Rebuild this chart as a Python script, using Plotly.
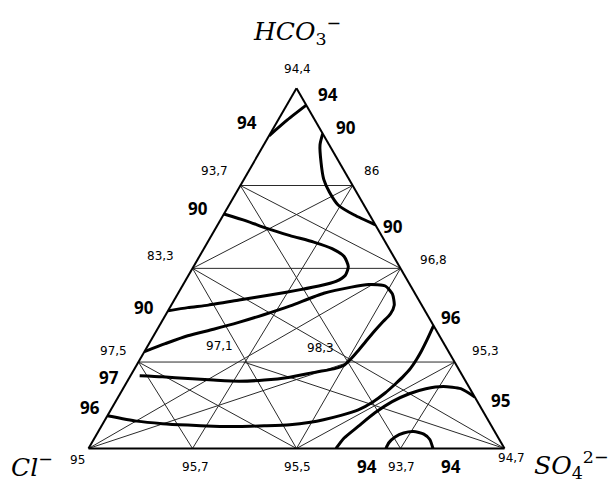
import plotly.graph_objects as go

FIG_W, FIG_H = 610, 482

# ---- design points (composition in %: HCO3-, Cl-, SO4 2-) and measured values ----
point_names = ["T", "BL", "BR", "L1", "L2", "L3", "R1", "R2", "R3", "B1", "B2", "B3", "I1", "I2"]
pt_hco3 = [100, 0, 0, 73, 50, 24, 73, 50, 24, 0, 0, 0, 24, 24]
pt_cl = [0, 100, 0, 27, 50, 76, 0, 0, 0, 75, 50, 25, 50.7, 25.3]
pt_so4 = [0, 0, 100, 0, 0, 0, 27, 50, 76, 25, 50, 75, 25.3, 50.7]
point_values = ["94,4", "95", "94,7", "93,7", "83,3", "97,5", "86", "96,8", "95,3",
                "95,7", "95,5", "93,7", "97,1", "98,3"]

# connecting lines of the design grid
grid_segments = [("L1", "R1"), ("L2", "R2"), ("L3", "R3"),
                 ("L1", "R2"), ("R1", "L2"),
                 ("L1", "B3"), ("R1", "B1"),
                 ("L2", "B2"), ("R2", "B2"),
                 ("BL", "R2"), ("BR", "L2"),
                 ("L3", "B1"), ("R3", "B3"),
                 ("BL", "I2"), ("BR", "I1"),
                 ("L3", "B2"), ("R3", "B2")]

# ---- iso-lines (HCO3- %, SO4 2- %; Cl- = 100 - both) ----
iso_A_hco3 = [86.8, 91.2, 95.3]
iso_A_so4 = [0.0, 2.2, 4.7]

iso_B_hco3 = [87.4, 84.3, 79.4, 74.7, 71.2, 67.6, 64.8, 62.1]
iso_B_so4 = [12.6, 13.5, 16.2, 19.2, 22.3, 26.2, 31.5, 37.9]

iso_C_hco3 = [65.1, 63.2, 61.1, 59.1, 57.3, 55.5, 53.3, 50.5, 48.1, 46.4, 45.1, 44.1,
              42.6, 41.2, 39.8, 39.1, 38.2]
iso_C_so4 = [0.0, 6.3, 12.3, 18.9, 25.5, 30.8, 34.8, 37.2, 37.7, 36.3, 32.8, 28.9,
             22.3, 15.6, 8.9, 4.3, 0.0]

iso_D_hco3 = [26.9, 29.1, 31.3, 33.1, 35.0, 37.2, 39.6, 43.1, 44.8, 45.5, 45.1,
              42.9, 39.8, 37.4, 34.9, 32.4, 29.7, 26.9, 24.7, 23.1, 22.1, 21.2, 19.8,
              19.0, 18.7, 19.0, 19.4, 19.9, 20.2]
iso_D_so4 = [0.0, 3.9, 8.2, 13.5, 18.6, 23.7, 28.7, 35.0, 40.8, 44.6, 48.8,
             51.6, 53.6, 53.9, 53.1, 52.4, 51.8, 51.2, 50.6, 49.9, 47.9, 44.0, 38.5,
             32.8, 26.8, 20.5, 14.2, 7.8, 2.2]

iso_E_hco3 = [9.1, 7.6, 6.9, 6.5, 6.2, 6.1, 6.3, 6.6, 7.3, 8.0, 9.2, 10.7, 12.9, 15.4,
              17.9, 19.8, 22.3, 24.7, 27.2, 30.2, 34.1]
iso_E_so4 = [0.0, 7.8, 14.3, 20.6, 26.9, 33.1, 39.1, 45.1, 49.7, 52.5, 56.1, 59.5,
             61.9, 63.6, 64.8, 65.6, 66.3, 66.5, 66.5, 66.3, 65.9]

iso_F_hco3 = [14.3, 16.6, 17.2, 16.6, 15.2, 13.0, 9.9, 6.2, 2.9, 0.0]
iso_F_so4 = [85.7, 81.2, 76.7, 72.8, 69.5, 66.5, 63.9, 61.8, 60.0, 59.5]

iso_G_hco3 = [0.0, 1.6, 3.2, 4.3, 4.7, 4.0, 2.5, 0.0]
iso_G_so4 = [71.5, 71.4, 72.1, 73.6, 75.8, 78.6, 80.8, 82.8]

iso_lines = [(iso_A_hco3, iso_A_so4), (iso_B_hco3, iso_B_so4), (iso_C_hco3, iso_C_so4),
             (iso_D_hco3, iso_D_so4), (iso_E_hco3, iso_E_so4), (iso_F_hco3, iso_F_so4),
             (iso_G_hco3, iso_G_so4)]

iso_labels = ["94", "94", "90", "90", "90", "90", "96", "97", "96", "95", "94", "94"]

vertex_titles = ["<i>HCO</i><sub>3</sub><sup>−</sup>", "<i>Cl</i><sup>−</sup>",
                 "<i>SO</i><sub>4</sub><sup>2−</sup>"]

# ---- placement (pixels in the 610x482 canvas) ----
value_label_px = [(297, 69), (77, 460), (511, 458), (214, 171), (160, 256), (113, 351),
                  (371, 171), (433, 260), (485, 351), (195, 467), (297, 467), (401, 467),
                  (219, 346), (320, 348)]
iso_label_px = [(328, 95), (247, 123), (346, 128), (198, 208), (393, 226), (144, 307),
                (451, 317), (109, 377), (90, 407), (500, 400), (367, 466), (451, 466)]
title_px = [(297, 31), (32, 465), (571, 465)]


def px_to_paper(p):
    return p[0] / FIG_W, 1 - p[1] / FIG_H


idx = {n: i for i, n in enumerate(point_names)}

fig = go.Figure()

for p, q in grid_segments:
    i, j = idx[p], idx[q]
    fig.add_trace(go.Scatterternary(
        a=[pt_hco3[i], pt_hco3[j]], b=[pt_cl[i], pt_cl[j]], c=[pt_so4[i], pt_so4[j]],
        mode="lines", line=dict(color="#2a2a2a", width=1), hoverinfo="skip",
        showlegend=False))

for ha, sc in iso_lines:
    cb = [round(100 - x - y, 2) for x, y in zip(ha, sc)]
    fig.add_trace(go.Scatterternary(
        a=ha, b=cb, c=sc, mode="lines",
        line=dict(color="black", width=3, shape="spline", smoothing=0.6),
        hoverinfo="skip", showlegend=False))

annotations = []
for txt, p in zip(point_values, value_label_px):
    x, y = px_to_paper(p)
    annotations.append(dict(x=x, y=y, xref="paper", yref="paper", text=txt,
                            showarrow=False, xanchor="center", yanchor="middle",
                            font=dict(family="DejaVu Sans", size=12, color="black")))
for txt, p in zip(iso_labels, iso_label_px):
    x, y = px_to_paper(p)
    annotations.append(dict(x=x, y=y, xref="paper", yref="paper", text="<b>" + txt + "</b>",
                            showarrow=False, xanchor="center", yanchor="middle",
                            font=dict(family="Open Sans", size=17, color="black")))
for txt, p in zip(vertex_titles, title_px):
    x, y = px_to_paper(p)
    annotations.append(dict(x=x, y=y, xref="paper", yref="paper", text=txt,
                            showarrow=False, xanchor="center", yanchor="middle",
                            font=dict(family="DejaVu Serif", size=25, color="black")))

# ternary box: equilateral triangle 416 px wide, base at y=448.5
tri_w = 416
tri_h = tri_w * 3 ** 0.5 / 2
left_px, base_px = 88.5, 448.5
dom_x = [left_px / FIG_W, (left_px + tri_w) / FIG_W]
dom_y = [1 - base_px / FIG_H, 1 - (base_px - tri_h) / FIG_H]

axis_style = dict(showticklabels=False, ticks="", showgrid=False, linecolor="black",
                  linewidth=2, min=0, title=dict(text=""))

fig.update_layout(
    width=FIG_W, height=FIG_H,
    margin=dict(l=0, r=0, t=0, b=0),
    paper_bgcolor="white",
    ternary=dict(sum=100, domain=dict(x=dom_x, y=dom_y), bgcolor="white",
                 aaxis=axis_style, baxis=axis_style, caxis=axis_style),
    annotations=annotations,
    showlegend=False,
)

fig.write_html("out.html")
